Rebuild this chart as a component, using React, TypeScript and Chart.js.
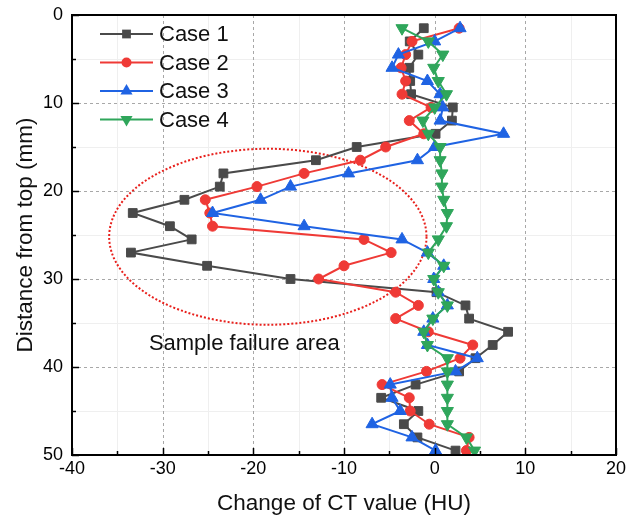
import React, { useEffect, useRef } from "react";
import { Chart, registerables } from "chart.js";

Chart.register(...registerables);

// ---- data ----
const depthMm = [
  1.5, 3, 4.5, 6, 7.5, 9, 10.5, 12, 13.5, 15, 16.5, 18, 19.5, 21, 22.5, 24, 25.5,
  27, 28.5, 30, 31.5, 33, 34.5, 36, 37.5, 39, 40.5, 42, 43.5, 45, 46.5, 48, 49.5,
];
const case1 = [
  -1.2, -2.75, -1.8, -2.8, -2.7, -2.6, 2.0, 1.9, 0.1, -8.6, -13.1, -23.3, -23.7,
  -27.6, -33.3, -29.2, -26.8, -33.5, -25.1, -15.9, 0.2, 3.4, 3.8, 8.1, 6.4, 4.5,
  2.7, -2.1, -5.9, -1.8, -3.4, -1.9, 2.3,
];
const case2 = [
  2.7, -2.5, -3.2, -3.7, -3.2, -3.6, -0.4, -2.8, -1.2, -5.4, -8.2, -14.4, -19.6,
  -25.3, -24.8, -24.5, -7.8, -4.8, -10.0, -12.8, -4.3, -1.8, -4.3, -0.7, 4.2, 2.8,
  -0.9, -5.8, -2.8, -2.7, -0.6, 3.8, 3.5,
];
const case3 = [
  2.8, 0.0, -4.0, -4.7, -0.8, 0.6, 0.9, 0.6, 7.6, 0.0, -1.9, -9.5, -15.9, -19.2,
  -24.5, -14.4, -3.6, -0.8, 1.0, -0.1, 0.4, 1.4, -0.2, -1.2, -0.8, 4.7, 2.3, -4.9,
  -4.7, -3.8, -6.9, -2.5, 0.1,
];
const case4 = [
  -3.6, -0.7, 0.9, -0.1, 0.4, 1.3, 0.0, -1.3, -0.7, 0.6, 0.6, 0.8, 0.8, 1.0, 1.4,
  1.3, 0.4, -0.7, 1.0, -0.1, 0.4, 1.4, -0.2, -1.2, -0.8, 1.4, 1.4, 1.4, 1.4, 1.4,
  1.4, 3.5, 4.4,
];
const seriesNames = ["Case 1", "Case 2", "Case 3", "Case 4"];
const seriesValues = [case1, case2, case3, case4];
const seriesColors = ["#4a4a4a", "#ef3a36", "#1f63e3", "#2fa65b"];
const seriesMarkers = ["rect", "circle", "triangle", "triangle"];
const seriesMarkerRotation = [0, 0, 0, 180];
const seriesMarkerRadius = [6.2, 5, 7, 7];

const xMin = -40;
const xMax = 20;
const yMin = 0;
const yMax = 50;
const majorStep = 10;
const minorStep = 5;

const xTitle = "Change of CT value (HU)";
const yTitle = "Distance from top (mm)";
const annotationText = "Sample failure area";
// failure-area ellipse (data units)
const ellipseCenterX = -18.4;
const ellipseCenterY = 25.2;
const ellipseRadiusX = 17.5;
const ellipseRadiusY = 10.0;
const annotationX = -21;
const annotationY = 37.4;

const FONT = "'Liberation Sans', Arial, Helvetica, sans-serif";

const framePlugin = {
  id: "frameAndDecor",
  beforeDatasetsDraw(chart: any) {
    const { ctx, chartArea, scales } = chart;
    const { left, right, top, bottom } = chartArea;
    const xs = scales.x;
    const ys = scales.y;
    ctx.save();
    // minor grid
    ctx.strokeStyle = "#efefef";
    ctx.lineWidth = 1;
    ctx.setLineDash([]);
    for (let v = xMin + minorStep; v < xMax; v += majorStep) {
      const px = Math.round(xs.getPixelForValue(v)) + 0.5;
      ctx.beginPath();
      ctx.moveTo(px, top);
      ctx.lineTo(px, bottom);
      ctx.stroke();
    }
    for (let v = yMin + minorStep; v < yMax; v += majorStep) {
      const py = Math.round(ys.getPixelForValue(v)) + 0.5;
      ctx.beginPath();
      ctx.moveTo(left, py);
      ctx.lineTo(right, py);
      ctx.stroke();
    }
    // major grid dashed
    ctx.strokeStyle = "#a8a8a8";
    ctx.setLineDash([3, 3]);
    for (let v = xMin + majorStep; v < xMax; v += majorStep) {
      const px = Math.round(xs.getPixelForValue(v)) + 0.5;
      ctx.beginPath();
      ctx.moveTo(px, top);
      ctx.lineTo(px, bottom);
      ctx.stroke();
    }
    for (let v = yMin + majorStep; v < yMax; v += majorStep) {
      const py = Math.round(ys.getPixelForValue(v)) + 0.5;
      ctx.beginPath();
      ctx.moveTo(left, py);
      ctx.lineTo(right, py);
      ctx.stroke();
    }
    ctx.setLineDash([]);
    // ellipse
    const cx = xs.getPixelForValue(ellipseCenterX);
    const cy = ys.getPixelForValue(ellipseCenterY);
    const rx = Math.abs(xs.getPixelForValue(ellipseCenterX + ellipseRadiusX) - cx);
    const ry = Math.abs(ys.getPixelForValue(ellipseCenterY + ellipseRadiusY) - cy);
    ctx.strokeStyle = "#e8201c";
    ctx.lineWidth = 2;
    ctx.setLineDash([2, 2]);
    ctx.beginPath();
    ctx.ellipse(cx, cy, rx, ry, 0, 0, Math.PI * 2);
    ctx.stroke();
    ctx.setLineDash([]);
    // annotation
    ctx.fillStyle = "#111";
    ctx.font = `22px ${FONT}`;
    ctx.textAlign = "center";
    ctx.textBaseline = "middle";
    ctx.fillText(annotationText, xs.getPixelForValue(annotationX), ys.getPixelForValue(annotationY));
    ctx.restore();
  },
  afterDatasetsDraw(chart: any) {
    const { ctx, chartArea, scales } = chart;
    const { left, right, top, bottom } = chartArea;
    const xs = scales.x;
    const ys = scales.y;
    ctx.save();
    // ticks (inward) on bottom and left
    ctx.strokeStyle = "#000";
    ctx.lineWidth = 1.5;
    for (let v = xMin; v <= xMax; v += minorStep) {
      const px = Math.round(xs.getPixelForValue(v)) + 0.5;
      const len = v % majorStep === 0 ? 7 : 4;
      ctx.beginPath();
      ctx.moveTo(px, bottom);
      ctx.lineTo(px, bottom - len);
      ctx.stroke();
    }
    for (let v = yMin; v <= yMax; v += minorStep) {
      const py = Math.round(ys.getPixelForValue(v)) + 0.5;
      const len = v % majorStep === 0 ? 7 : 4;
      ctx.beginPath();
      ctx.moveTo(left, py);
      ctx.lineTo(left + len, py);
      ctx.stroke();
    }
    // frame
    ctx.lineWidth = 2;
    ctx.strokeRect(left, top, right - left, bottom - top);
    // legend
    const lx0 = left + 28;
    const lx1 = left + 81;
    const textX = left + 87;
    const rowY0 = top + 19;
    const rowGap = 28.5;
    ctx.font = `22px ${FONT}`;
    ctx.textAlign = "left";
    ctx.textBaseline = "middle";
    chart.data.datasets.forEach((ds: any, i: number) => {
      const yy = rowY0 + i * rowGap;
      ctx.strokeStyle = seriesColors[i];
      ctx.lineWidth = 2;
      ctx.beginPath();
      ctx.moveTo(lx0, yy);
      ctx.lineTo(lx1, yy);
      ctx.stroke();
      ctx.fillStyle = seriesColors[i];
      drawMarker(ctx, seriesMarkers[i], seriesMarkerRadius[i], seriesMarkerRotation[i], (lx0 + lx1) / 2, yy);
      ctx.fillStyle = "#111";
      ctx.fillText(ds.label, textX, yy + 1);
    });
    ctx.restore();
  },
};

function drawMarker(ctx: CanvasRenderingContext2D, style: string, r: number, rotDeg: number, x: number, y: number) {
  ctx.beginPath();
  if (style === "rect") {
    const s = Math.SQRT1_2 * r;
    ctx.rect(x - s, y - s, 2 * s, 2 * s);
  } else if (style === "circle") {
    ctx.arc(x, y, r, 0, Math.PI * 2);
  } else {
    let rad = (rotDeg * Math.PI) / 180;
    ctx.moveTo(x + Math.sin(rad) * r, y - Math.cos(rad) * r);
    rad += (2 * Math.PI) / 3;
    ctx.lineTo(x + Math.sin(rad) * r, y - Math.cos(rad) * r);
    rad += (2 * Math.PI) / 3;
    ctx.lineTo(x + Math.sin(rad) * r, y - Math.cos(rad) * r);
    ctx.closePath();
  }
  ctx.fill();
}

export default function App() {
  const canvasRef = useRef<HTMLCanvasElement | null>(null);

  useEffect(() => {
    if (!canvasRef.current) return;
    const datasets = seriesNames.map((name, i) => ({
      label: name,
      data: depthMm.map((d, k) => ({ x: seriesValues[i][k], y: d })),
      showLine: true,
      borderColor: seriesColors[i],
      backgroundColor: seriesColors[i],
      borderWidth: 2,
      pointStyle: seriesMarkers[i],
      pointRotation: seriesMarkerRotation[i],
      pointRadius: seriesMarkerRadius[i],
      pointBorderWidth: 1,
      pointBorderColor: seriesColors[i],
      pointBackgroundColor: seriesColors[i],
      tension: 0,
      order: 4 - i,
    }));
    const tickFont = { family: FONT, size: 18 };
    const titleFont = { family: FONT, size: 22.5 };
    const chart = new Chart(canvasRef.current, {
      type: "scatter",
      data: { datasets },
      options: {
        animation: false,
        responsive: false,
        devicePixelRatio: 1,
        layout: { padding: { top: 15, right: 22, left: 0, bottom: 0 } },
        plugins: { legend: { display: false }, tooltip: { enabled: false } },
        scales: {
          x: {
            type: "linear",
            min: xMin,
            max: xMax,
            ticks: { stepSize: majorStep, font: tickFont, color: "#000", padding: 3 },
            grid: { display: false, drawTicks: false, tickLength: 0 },
            border: { display: false },
            title: { display: true, text: xTitle, font: titleFont, color: "#111", padding: { top: 0, bottom: 4 } },
            afterFit: (s: any) => {
              s.height = 66;
              s.paddingLeft = 0;
              s.paddingRight = 0;
            },
          },
          y: {
            type: "linear",
            reverse: true,
            min: yMin,
            max: yMax,
            ticks: { stepSize: majorStep, font: tickFont, color: "#000", padding: 9 },
            grid: { display: false, drawTicks: false, tickLength: 0 },
            border: { display: false },
            title: { display: true, text: yTitle, font: titleFont, color: "#111", padding: { top: 12, bottom: 0 } },
            afterFit: (s: any) => {
              s.width = 72;
              s.paddingTop = 0;
              s.paddingBottom = 0;
            },
          },
        },
      } as any,
      plugins: [framePlugin as any],
    });
    return () => chart.destroy();
  }, []);

  return (
    <div style={{ position: "absolute", left: 0, top: 0, width: 638, height: 521, background: "#fff" }}>
      <canvas ref={canvasRef} width={638} height={521} style={{ display: "block" }} />
    </div>
  );
}
